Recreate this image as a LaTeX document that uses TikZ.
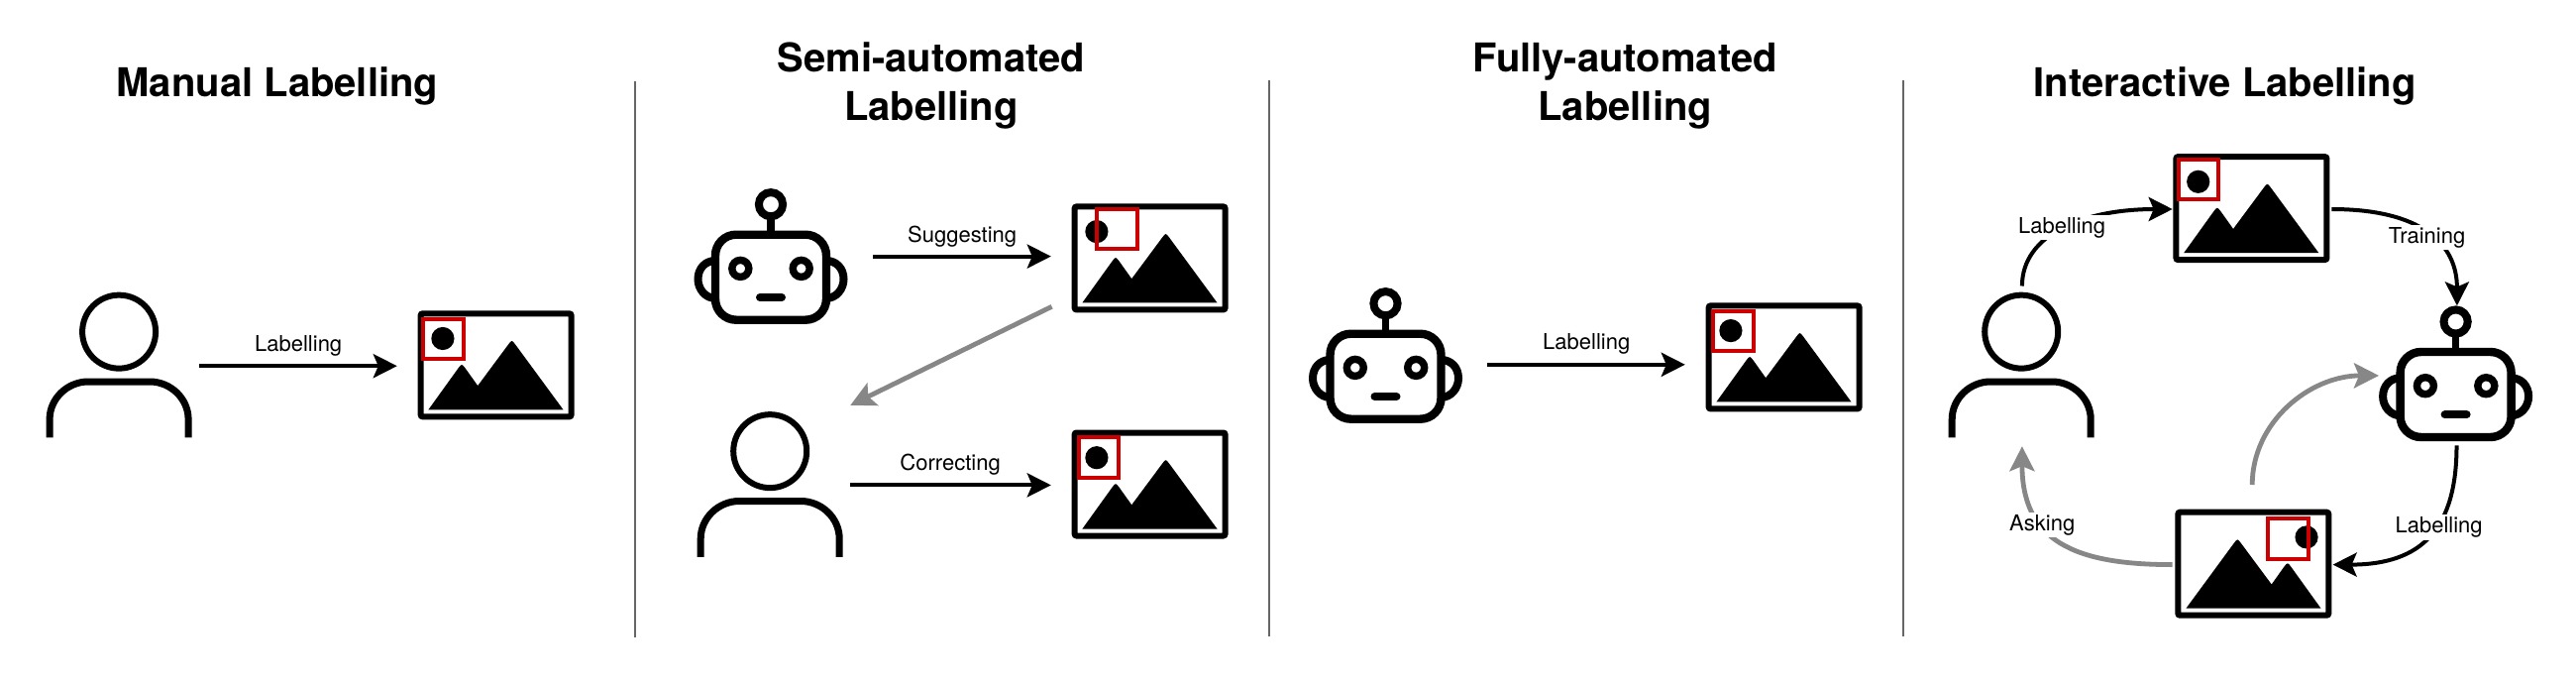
\documentclass[tikz,border=0pt]{standalone}
\usepackage{fontspec}
\setmainfont{TeX Gyre Heros}
\usetikzlibrary{arrows.meta}
\definecolor{redmark}{HTML}{CC0000}
\definecolor{greyarrow}{HTML}{878787}
\definecolor{greyrule}{HTML}{666666}
\tikzset{
  x=0.5pt,y=-0.5pt,
  imgbox/.style={minimum width=79pt,minimum height=55pt,inner sep=0pt,outer sep=0pt},
  personbox/.style={minimum width=73.5pt,minimum height=73.35pt,inner sep=0pt,outer sep=0pt},
  robotbox/.style={minimum width=77.4pt,minimum height=68.3pt,inner sep=0pt,outer sep=0pt},
  titletext/.style={font=\fontsize{20}{24}\selectfont\bfseries,anchor=base,inner sep=0pt},
  lbl/.style={font=\fontsize{11}{13}\selectfont,anchor=base,inner sep=0pt},
  lblw/.style={lbl,fill=white,inner sep=1.2pt},
  flow/.style={line width=2pt,black,-{Stealth[length=12pt,width=12pt,inset=2.5pt]}},
  flowgrey/.style={flow,greyarrow,line width=2.4pt,-{Stealth[length=12.5pt,width=12.5pt,inset=2.5pt]}},
  redbox/.style={draw=redmark,line width=2pt},
  panelrule/.style={draw=greyrule,line width=1.1pt},
  personicon/.pic={
    \draw[line width=3pt] (0,-33.35) circle [radius=18.5pt];
    \draw[line width=3.5pt] (-70,73.35) -- (-70,55) .. controls (-70,34) and (-52,17) .. (-31,17)
      -- (31,17) .. controls (52,17) and (70,34) .. (70,55) -- (70,73.35);
  },
  roboticon/.pic={
    \draw[line width=4pt] (0,-52.4) circle [radius=6.05pt];
    \draw[line width=3.75pt] (0,-42) -- (0,-22);
    \draw[line width=4pt] (-56,4.4) .. controls (-66,4.4) and (-73.5,12) .. (-73.5,23)
      .. controls (-73.5,33) and (-66,42.3) .. (-56,42.3);
    \draw[line width=4pt] (56,4.4) .. controls (66,4.4) and (73.5,12) .. (73.5,23)
      .. controls (73.5,33) and (66,42.3) .. (56,42.3);
    \draw[line width=4.2pt,rounded corners=10.5pt] (-56,-21.9) rectangle (56,64.1);
    \draw[line width=3.7pt] (-30.7,12.3) circle [radius=4.25pt];
    \draw[line width=3.7pt] (30.7,12.3) circle [radius=4.25pt];
    \draw[line width=4pt,line cap=round] (-11,41.4) -- (11,41.4);
  },
  imgicon/.pic={
    \draw[line width=3pt,rounded corners=1pt] (-76,-52) rectangle (76,52);
    \fill (-53.7,-26.8) circle [radius=5.8pt];
    \fill (-68.2,45) -- (-38.2,3.3) .. controls (-34.6,-1.5) .. (-31,3.1) -- (-18.4,20.8)
      -- (12.4,-20.7) .. controls (16,-25.5) .. (19.6,-20.7) -- (67.9,45) -- cycle;
  }
}
\begin{document}
\begin{tikzpicture}
\useasboundingbox (0,0) rectangle (2600,690);
\fill[white] (0,0) rectangle (2600,690);

% titles
\node[titletext] (t1) at (279.9,97.8) {Manual Labelling};
\node[titletext] (t2a) at (940,72.7) {Semi-automated};
\node[titletext] (t2b) at (940,121.1) {Labelling};
\node[titletext] (t3a) at (1640.2,72.7) {Fully-automated};
\node[titletext] (t3b) at (1640.2,121.1) {Labelling};
\node[titletext] (t4) at (2245.6,97.8) {Interactive Labelling};

% separators
\draw[panelrule] (640.7,82.5) -- (640.7,643);
\draw[panelrule] (1280.7,81) -- (1280.7,642);
\draw[panelrule] (1920.7,81) -- (1920.7,642);

% panel 1
\node[personbox] (p1) at (120.1,368) {};
\pic at (p1.center) {personicon};
\node[imgbox] (i1) at (500.6,368.3) {};
\pic at (i1.center) {imgicon};
\draw[redbox] ([shift={(5.4,8.3)}]i1.north west) rectangle +(40.6,40.2);
\draw[flow] ([shift={(7.6,1.2)}]p1.east) -- ([shift={(-20.8,0.9)}]i1.west);
\node[lbl] (l1) at (301.2,354.5) {Labelling};

% panel 2
\node[robotbox] (r2) at (778,258.6) {};
\pic at (r2.center) {roboticon};
\node[imgbox] (i2) at (1160.6,260.4) {};
\pic at (i2.center) {imgicon};
\draw[redbox] ([shift={(25.8,5.7)}]i2.north west) rectangle +(40.6,40.2);
\node[personbox] (p2) at (777.2,488.5) {};
\pic at (p2.center) {personicon};
\node[imgbox] (i3) at (1160.6,488.5) {};
\pic at (i3.center) {imgicon};
\draw[redbox] ([shift={(7.1,7.9)}]i3.north west) rectangle +(40.6,40.2);
\draw[flow] ([shift={(25.7,0)}]r2.east) -- ([shift={(-20.8,-1.8)}]i2.west);
\draw[flowgrey] ([shift={(-20,-6.1)}]i2.south west) -- ([shift={(7.6,-6.35)}]p2.north east);
\draw[flow] ([shift={(6.8,0.9)}]p2.east) -- ([shift={(-20.8,0.9)}]i3.west);
\node[lbl] (l2) at (971.2,244.4) {Suggesting};
\node[lbl] (l3) at (959.1,474.3) {Correcting};

% panel 3
\node[robotbox] (r3) at (1398.5,358.6) {};
\pic at (r3.center) {roboticon};
\node[imgbox] (i4) at (1800.6,360.4) {};
\pic at (i4.center) {imgicon};
\draw[redbox] ([shift={(7.5,8.3)}]i4.north west) rectangle +(40.6,40.2);
\draw[flow] ([shift={(25.3,9.2)}]r3.east) -- ([shift={(-20.8,7.4)}]i4.west);
\node[lbl] (l4) at (1601.2,352.7) {Labelling};

% panel 4
\node[personbox] (p4) at (2040.2,368) {};
\pic at (p4.center) {personicon};
\node[imgbox] (i5) at (2272.4,210.1) {};
\pic at (i5.center) {imgicon};
\draw[redbox] ([shift={(5.4,5.7)}]i5.north west) rectangle +(40.6,40.2);
\node[robotbox] (r4) at (2478.6,376.9) {};
\pic at (r4.center) {roboticon};
\node[imgbox] (i6) at (2274.3,568.7) {};
\pic[xscale=-1] at (i6.center) {imgicon};
\draw[redbox] ([shift={(93.8,9.6)}]i6.north west) rectangle +(40.6,40.2);

\draw[flow] ([shift={(0.7,-6.15)}]p4.north) .. controls +(0,-52) and +(-90,0) .. ([shift={(-0.7,0.9)}]i5.west);
\draw[flow] ([shift={(1.9,0.9)}]i5.east) .. controls +(90,0) and +(0,-63) .. ([shift={(1.3,-0.2)}]r4.north);
\draw[flow] ([shift={(0.9,4.1)}]r4.south) .. controls +(0,84) and +(90,0) .. ([shift={(1.3,0.9)}]i6.east);
\draw[flowgrey] ([shift={(-1.1,-24.7)}]i6.north) .. controls +(0,-63) and +(-70,0) .. ([shift={(-0.2,2)}]r4.west);
\draw[flowgrey] ([shift={(-2.6,0.9)}]i6.west) .. controls +(-100,0) and +(0,95) .. ([shift={(0.7,8.85)}]p4.south);

\node[lblw] (l5) at (2081.1,235.2) {Labelling};
\node[lblw] (l6) at (2449.6,245) {Training};
\node[lblw] (l7) at (2461.6,537.4) {Labelling};
\node[lblw] (l8) at (2061.2,535.2) {Asking};
\end{tikzpicture}
\end{document}
